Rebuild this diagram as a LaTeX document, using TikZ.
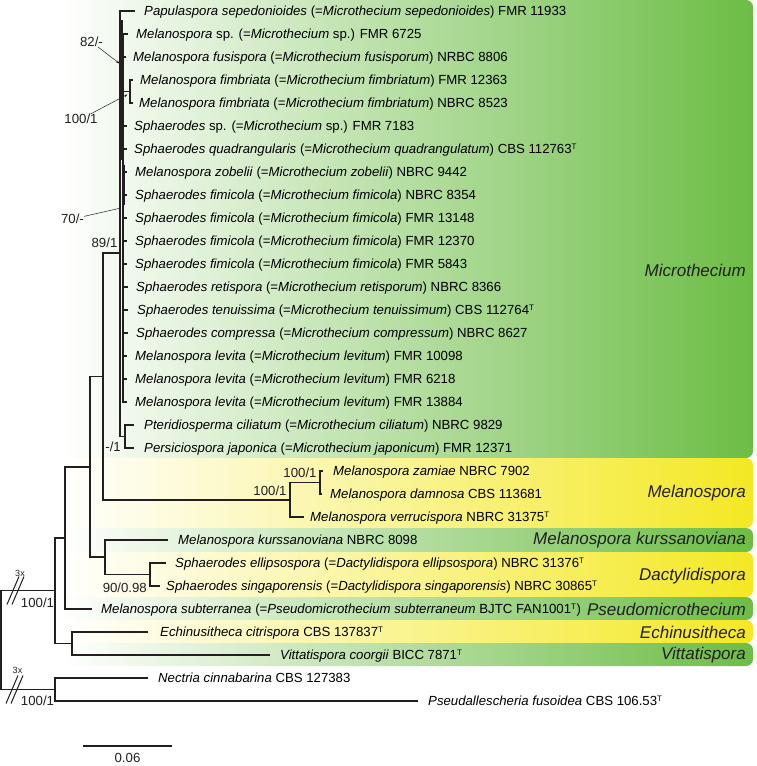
\documentclass[tikz,border=0pt]{standalone}
\usepackage{fontspec}
\setmainfont{Liberation Sans}
\usetikzlibrary{arrows.meta}
\definecolor{pgreen}{RGB}{108,189,69}
\definecolor{pyellow}{RGB}{244,232,35}
\definecolor{ink}{RGB}{35,31,32}
\newcommand\supT{\textsuperscript{\fontsize{8}{8}\selectfont T}}
\begin{document}
\begin{tikzpicture}[x=1pt,y=-1pt,
 br/.style={draw=ink,line width=1.1pt},
 tip/.style={anchor=west,inner sep=0pt,text height=9.5pt,text depth=0pt,font=\fontsize{13.2}{15}\selectfont},
 sup/.style={inner sep=0pt,text=ink,font=\fontsize{13.2}{15}\selectfont},
 small/.style={inner sep=0pt,text=ink,font=\fontsize{9}{10}\selectfont},
 clade/.style={anchor=east,inner sep=0pt,text=ink,font=\fontsize{17}{20}\selectfont\itshape},
 gpanel/.style={left color=white,right color=pgreen,rounded corners=7pt},
 ypanel/.style={left color=white,right color=pyellow,rounded corners=7pt},
 ann/.style={draw=ink,line width=0.5pt,-{Stealth[length=3.5pt,width=2.6pt]}},
 annplain/.style={draw=ink,line width=0.5pt},
 brk/.style={draw=ink,line width=1pt},
]
\useasboundingbox (0,0) rectangle (756,766);
% panels
\path[gpanel] (60,0) rectangle (753,458);
\path[ypanel] (60,458) rectangle (753,528);
\path[gpanel] (60,528) rectangle (753,552);
\path[ypanel] (60,552) rectangle (753,597);
\path[gpanel] (60,597) rectangle (753,620);
\path[ypanel] (60,620) rectangle (753,643);
\path[gpanel] (60,643) rectangle (753,666);
% clade labels
\node[clade] (cMic) at (746,270) {Microthecium};
\node[clade] (cMel) at (746,493) {Melanospora};
\node[clade] (cKur) at (746,540) {Melanospora kurssanoviana};
\node[clade] (cDac) at (746,576) {Dactylidispora};
\node[clade] (cPse) at (746,609) {Pseudomicrothecium};
\node[clade] (cEch) at (746,632) {Echinusitheca};
\node[clade] (cVit) at (746,655) {Vittatispora};
% tips
\node[tip] (t1) at (144,11) {\textit{Papulaspora sepedonioides} (=\textit{Microthecium sepedonioides}) FMR 11933};
\node[tip] (t2) at (136,34) {\textit{Melanospora} sp. (=\textit{Microthecium} sp.) FMR 6725};
\node[tip] (t3) at (133,57) {\textit{Melanospora fusispora} (=\textit{Microthecium fusisporum}) NRBC 8806};
\node[tip] (t4) at (140,80) {\textit{Melanospora fimbriata} (=\textit{Microthecium fimbriatum}) FMR 12363};
\node[tip] (t5) at (139,103) {\textit{Melanospora fimbriata} (=\textit{Microthecium fimbriatum}) NBRC 8523};
\node[tip] (t6) at (134,126) {\textit{Sphaerodes} sp. (=\textit{Microthecium} sp.) FMR 7183};
\node[tip] (t7) at (134,149) {\textit{Sphaerodes quadrangularis} (=\textit{Microthecium quadrangulatum}) CBS 112763\supT};
\node[tip] (t8) at (135,172) {\textit{Melanospora zobelii} (=\textit{Microthecium zobelii}) NBRC 9442};
\node[tip] (t9) at (135,195) {\textit{Sphaerodes fimicola} (=\textit{Microthecium fimicola}) NBRC 8354};
\node[tip] (t10) at (135,218) {\textit{Sphaerodes fimicola} (=\textit{Microthecium fimicola}) FMR 13148};
\node[tip] (t11) at (135,241) {\textit{Sphaerodes fimicola} (=\textit{Microthecium fimicola}) FMR 12370};
\node[tip] (t12) at (135,264) {\textit{Sphaerodes fimicola} (=\textit{Microthecium fimicola}) FMR 5843};
\node[tip] (t13) at (136,287) {\textit{Sphaerodes retispora} (=\textit{Microthecium retisporum}) NBRC 8366};
\node[tip] (t14) at (137,310) {\textit{Sphaerodes tenuissima} (=\textit{Microthecium tenuissimum}) CBS 112764\supT};
\node[tip] (t15) at (136,333) {\textit{Sphaerodes compressa} (=\textit{Microthecium compressum}) NBRC 8627};
\node[tip] (t16) at (135,356) {\textit{Melanospora levita} (=\textit{Microthecium levitum}) FMR 10098};
\node[tip] (t17) at (135,379) {\textit{Melanospora levita} (=\textit{Microthecium levitum}) FMR 6218};
\node[tip] (t18) at (135,402) {\textit{Melanospora levita} (=\textit{Microthecium levitum}) FMR 13884};
\node[tip] (t19) at (144,425) {\textit{Pteridiosperma ciliatum} (=\textit{Microthecium ciliatum}) NBRC 9829};
\node[tip] (t20) at (144,448) {\textit{Persiciospora japonica} (=\textit{Microthecium japonicum}) FMR 12371};
\node[tip] (t21) at (333,471) {\textit{Melanospora zamiae} NBRC 7902};
\node[tip] (t22) at (330,494) {\textit{Melanospora damnosa} CBS 113681};
\node[tip] (t23) at (310,517) {\textit{Melanospora verrucispora} NBRC 31375\supT};
\node[tip] (t24) at (178,540) {\textit{Melanospora kurssanoviana} NBRC 8098};
\node[tip] (t25) at (175,563) {\textit{Sphaerodes ellipsospora} (=\textit{Dactylidispora ellipsospora}) NBRC 31376\supT};
\node[tip] (t26) at (166,586) {\textit{Sphaerodes singaporensis} (=\textit{Dactylidispora singaporensis}) NBRC 30865\supT};
\node[tip] (t27) at (101,609) {\textit{Melanospora subterranea} (=\textit{Pseudomicrothecium subterraneum} BJTC FAN1001\supT)};
\node[tip] (t28) at (160,632) {\textit{Echinusitheca citrispora} CBS 137837\supT};
\node[tip] (t29) at (280,655) {\textit{Vittatispora coorgii} BICC 7871\supT};
\node[tip] (t30) at (158,678) {\textit{Nectria cinnabarina} CBS 127383};
\node[tip] (t31) at (428,701) {\textit{Pseudallescheria fusoidea} CBS 106.53\supT};
% branch ends
\foreach \i/\g in {1/9,2/8,3/7,4/7,5/6,6/7,7/7,8/8,9/8,10/8,11/8,12/8,13/8,14/9,15/8,16/8,17/8,18/8,19/10,20/10,
  21/10,22/8,23/6,24/10,25/9,26/6,27/9,28/12,29/10,30/10,31/10}
  \coordinate (e\i) at ([xshift=-\g pt]t\i.west);
% internal nodes
\coordinate (PP) at (125,436.5);
\coordinate (MIC) at (120,253);
\coordinate (IN) at (123,218);
\coordinate (FB) at (130,91.5);
\coordinate (MZ) at (320,482.5);
\coordinate (MEL) at (290,500);
\coordinate (N103) at (103,376.5);
\coordinate (DAC) at (150,574.5);
\coordinate (N105) at (105,557);
\coordinate (N90) at (90,467);
\coordinate (N65) at (65,538);
\coordinate (EV) at (72,643.5);
\coordinate (ING) at (55,590.5);
\coordinate (OUT) at (55,689.5);
\coordinate (ROOT) at (1,640);
% Microthecium clade
\draw[br] (e1) -| (MIC) |- (PP);
\draw[br] (e19) -| (PP) |- (e20);
\draw[br] (e2) -| (IN) |- (e18);
\foreach \i in {3,6,7,8,9,10,11,12,13,14,15,16,17}
  \draw[br] (IN |- e\i) -- (e\i);
\draw[br] (e4) -| (FB) |- (e5);
\draw[br] (FB) -- (IN |- FB);
\coordinate (k1a) at (121.5,20);
\coordinate (k1b) at (121.5,160);
\coordinate (k2a) at (124,165);
\coordinate (k2b) at (124,205);
\draw[draw=ink,line width=2.4pt] (k1a) -- (k1b);
\draw[draw=ink,line width=2.2pt] (k2a) -- (k2b);
% rest of tree
\draw[br] (e21) -| (MZ) |- (e22);
\draw[br] (MZ) -| (MEL) |- (e23);
\draw[br] (MIC) -| (N103) |- (MEL);
\draw[br] (e25) -| (DAC) |- (e26);
\draw[br] (e24) -| (N105) |- (DAC);
\draw[br] (N103) -| (N90) |- (N105);
\draw[br] (N90) -| (N65) |- (e27);
\draw[br] (e28) -| (EV) |- (e29);
\draw[br] (N65) -| (ING) |- (EV);
\draw[br] (e30) -| (OUT) |- (e31);
\draw[br] (ING) -| (ROOT) |- (OUT);
% break marks
\coordinate (bk1) at (13,590.5);
\coordinate (bk2) at (12,689.5);
\foreach \b in {bk1,bk2}{
  \draw[brk] ([shift={(-6,14)}]\b) -- ([shift={(6,-14)}]\b);
  \draw[brk] ([shift={(-1,14)}]\b) -- ([shift={(11,-14)}]\b);
}
\node[small] (x1) at (20,573) {3x};
\node[small] (x2) at (17.5,670) {3x};
\node[sup] (s1) at (37.5,603) {100/1};
\node[sup] (s2) at (37.5,701) {100/1};
% support values
\node[sup] (l82) at (91.5,42) {82/-};
\coordinate (a82) at (119.5,63.5);
\draw[ann] (l82) -- (a82);
\node[sup] (l100a) at (81,119) {100/1};
\coordinate (a100) at (127.5,94.5);
\draw[ann] (l100a) -- (a100);
\node[sup] (l70) at (72.5,219) {70/-};
\coordinate (a70) at (121,208);
\draw[annplain] (l70) -- (a70);
\node[sup] (l89) at (104.5,243) {89/1};
\node[sup,anchor=east] (lpp) at (121,447) {-/1};
\node[sup] (lmz) at (300,473) {100/1};
\node[sup] (lmel) at (270,491) {100/1};
\node[sup,anchor=east] (ldac) at (147,588) {90/0.98};
% scale bar
\coordinate (sb1) at (83,746);
\coordinate (sb2) at (172,746);
\draw[br] (sb1) -- (sb2);
\node[sup] (sbl) at (127.5,757.5) {0.06};
\end{tikzpicture}
\end{document}
